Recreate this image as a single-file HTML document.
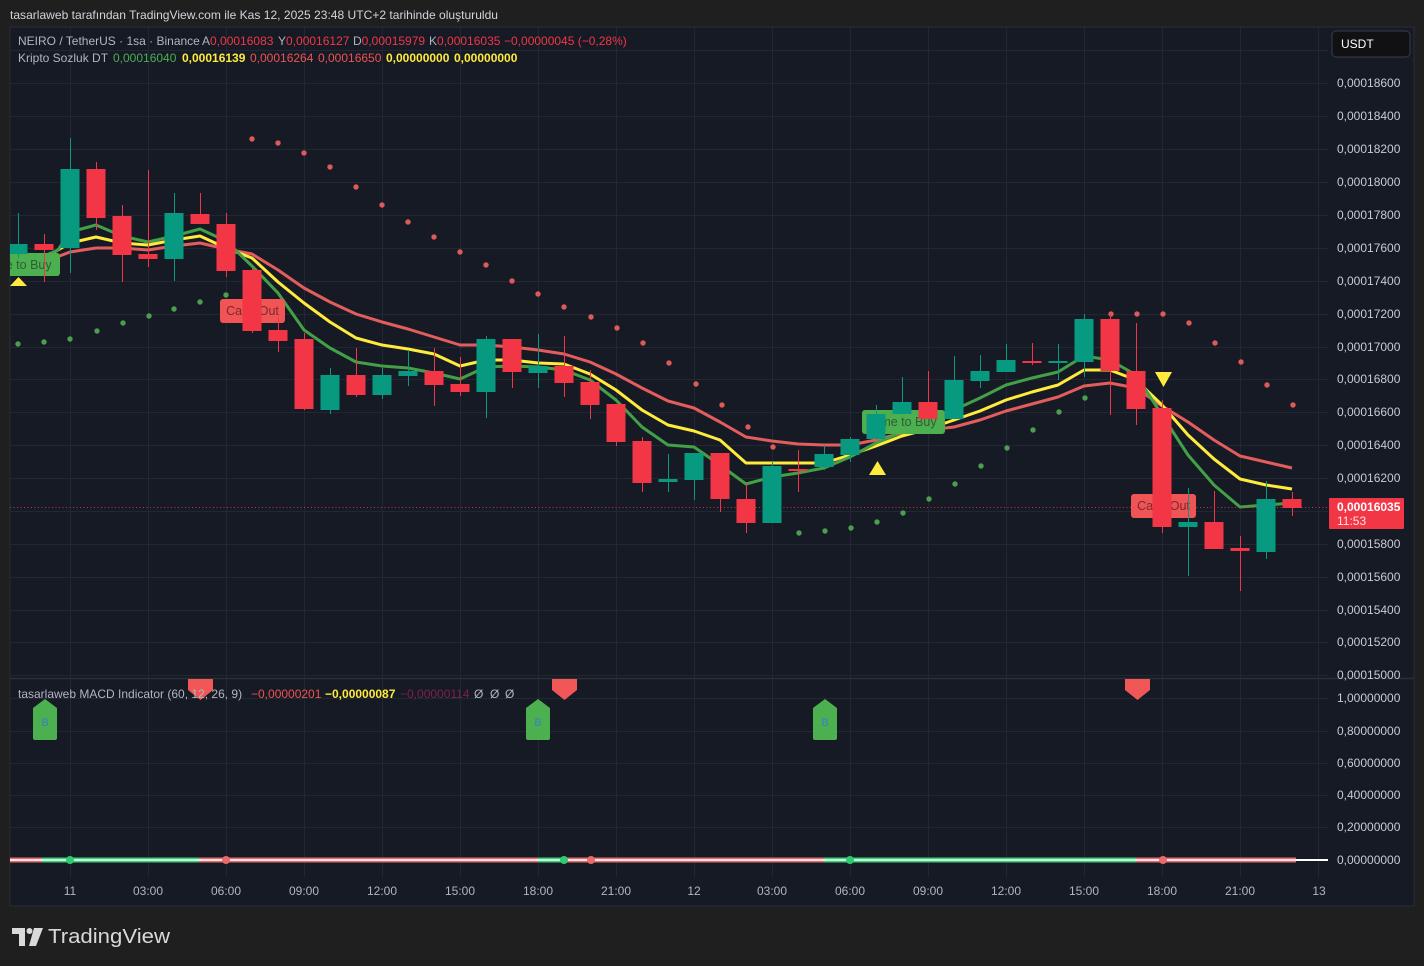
<!DOCTYPE html>
<html><head><meta charset="utf-8"><style>
html,body{margin:0;padding:0;background:#1f1f1f;}
svg{display:block;}
text{font-family:"Liberation Sans",Arial,sans-serif;}
</style></head><body>
<svg width="1424" height="966" viewBox="0 0 1424 966" xmlns="http://www.w3.org/2000/svg">
<defs>
<clipPath id="cm"><rect x="10" y="27" width="1318" height="651"/></clipPath>
<clipPath id="cd"><rect x="10" y="679" width="1318" height="196"/></clipPath>
</defs>
<rect width="1424" height="966" fill="#1f1f1f"/>
<text x="10" y="19" font-size="12" fill="#d1d4dc" textLength="488" lengthAdjust="spacingAndGlyphs">tasarlaweb tarafından TradingView.com ile Kas 12, 2025 23:48 UTC+2 tarihinde oluşturuldu</text>
<rect x="10" y="27" width="1404" height="879" fill="#161a25" stroke="#2a2e39" stroke-width="1"/>
<!-- grid -->
<g stroke="#232733" stroke-width="1">
<line x1="10" y1="50.5" x2="1328" y2="50.5"/><line x1="10" y1="83.5" x2="1328" y2="83.5"/><line x1="10" y1="116.5" x2="1328" y2="116.5"/><line x1="10" y1="149.5" x2="1328" y2="149.5"/><line x1="10" y1="182.5" x2="1328" y2="182.5"/><line x1="10" y1="215.5" x2="1328" y2="215.5"/><line x1="10" y1="248.5" x2="1328" y2="248.5"/><line x1="10" y1="281.5" x2="1328" y2="281.5"/><line x1="10" y1="314.5" x2="1328" y2="314.5"/><line x1="10" y1="347.5" x2="1328" y2="347.5"/><line x1="10" y1="379.5" x2="1328" y2="379.5"/><line x1="10" y1="412.5" x2="1328" y2="412.5"/><line x1="10" y1="445.5" x2="1328" y2="445.5"/><line x1="10" y1="478.5" x2="1328" y2="478.5"/><line x1="10" y1="511.5" x2="1328" y2="511.5"/><line x1="10" y1="544.5" x2="1328" y2="544.5"/><line x1="10" y1="577.5" x2="1328" y2="577.5"/><line x1="10" y1="610.5" x2="1328" y2="610.5"/><line x1="10" y1="642.5" x2="1328" y2="642.5"/><line x1="10" y1="675.5" x2="1328" y2="675.5"/>
<line x1="10" y1="698.5" x2="1328" y2="698.5"/><line x1="10" y1="731.5" x2="1328" y2="731.5"/><line x1="10" y1="763.5" x2="1328" y2="763.5"/><line x1="10" y1="795.5" x2="1328" y2="795.5"/><line x1="10" y1="827.5" x2="1328" y2="827.5"/>
<line x1="70.5" y1="27" x2="70.5" y2="877"/><line x1="148.5" y1="27" x2="148.5" y2="877"/><line x1="226.5" y1="27" x2="226.5" y2="877"/><line x1="304.5" y1="27" x2="304.5" y2="877"/><line x1="382.5" y1="27" x2="382.5" y2="877"/><line x1="460.5" y1="27" x2="460.5" y2="877"/><line x1="538.5" y1="27" x2="538.5" y2="877"/><line x1="616.5" y1="27" x2="616.5" y2="877"/><line x1="694.5" y1="27" x2="694.5" y2="877"/><line x1="772.5" y1="27" x2="772.5" y2="877"/><line x1="850.5" y1="27" x2="850.5" y2="877"/><line x1="928.5" y1="27" x2="928.5" y2="877"/><line x1="1006.5" y1="27" x2="1006.5" y2="877"/><line x1="1084.5" y1="27" x2="1084.5" y2="877"/><line x1="1162.5" y1="27" x2="1162.5" y2="877"/><line x1="1240.5" y1="27" x2="1240.5" y2="877"/><line x1="1318.5" y1="27" x2="1318.5" y2="877"/>
</g>
<line x1="10" y1="678.5" x2="1414" y2="678.5" stroke="#2a2e39" stroke-width="1.5"/>

<g clip-path="url(#cm)">
<!-- MAs -->
<polyline fill="none" stroke="#e35d5d" stroke-width="3" stroke-linejoin="round" points="10,270 18,268 44,262 70,252 96,248 122,248 148,250 174,246 200,243 226,249 252,254 278,270 304,288 330,302 356,314 382,322 408,329 434,337 460,345 486,345 512,347 538,350 564,354 590,362 616,374 642,388 668,401 694,408 720,422 746,437 772,441 798,444 824,445 850,445 876,440 902,433 928,430 954,427 980,420 1006,411 1032,404 1058,397 1084,386 1110,383 1136,388 1162,406 1188,422 1214,440 1240,456 1266,462 1292,468"/>
<polyline fill="none" stroke="#ffeb3b" stroke-width="3" stroke-linejoin="round" points="10,267 18,265 44,258 70,243 96,237 122,243 148,245 174,240 200,236 226,248 252,258 278,282 304,303 330,322 356,338 382,345 408,349 434,354 460,366 486,360 512,360 538,363 564,364 590,374 616,390 642,410 668,425 694,431 720,440 746,463 772,463 798,463 824,463 850,455 876,446 902,436 928,429 954,420 980,411 1006,400 1032,392 1058,385 1084,370 1110,370 1136,380 1162,405 1188,435 1214,459 1240,479 1266,485 1292,489"/>
<polyline fill="none" stroke="#43a047" stroke-width="3" stroke-linejoin="round" points="10,264 18,262 44,256 58,250 70,232 96,225 122,236 148,242 174,236 200,229 226,241 252,266 278,293 304,330 330,348 356,362 382,366 408,368 434,373 460,379 486,367 512,366 538,367 564,370 590,380 616,400 642,427 668,445 694,447 720,465 746,484 772,477 798,473 824,468 850,457 876,443 902,432 928,420 954,410 980,398 1006,385 1032,378 1058,372 1084,356 1110,360 1136,375 1162,415 1188,455 1214,485 1240,507 1266,505 1292,503"/>
<!-- SAR -->
<g fill="#4c9e4f">
<circle cx="18" cy="344" r="2.7"/><circle cx="44" cy="342" r="2.7"/><circle cx="70" cy="339" r="2.7"/><circle cx="97" cy="331" r="2.7"/><circle cx="123" cy="323" r="2.7"/><circle cx="149" cy="316" r="2.7"/><circle cx="174" cy="309" r="2.7"/><circle cx="200" cy="302" r="2.7"/><circle cx="226" cy="295" r="2.7"/>
<circle cx="799" cy="533" r="2.7"/><circle cx="825" cy="531" r="2.7"/><circle cx="851" cy="528" r="2.7"/><circle cx="877" cy="522" r="2.7"/><circle cx="903" cy="513" r="2.7"/><circle cx="929" cy="499" r="2.7"/><circle cx="955" cy="484" r="2.7"/><circle cx="981" cy="466" r="2.7"/><circle cx="1007" cy="448" r="2.7"/><circle cx="1033" cy="430" r="2.7"/><circle cx="1059" cy="412" r="2.7"/><circle cx="1085" cy="398" r="2.7"/>
</g>
<g fill="#dc5a5a">
<circle cx="252" cy="139" r="2.7"/><circle cx="278" cy="143" r="2.7"/><circle cx="304" cy="153" r="2.7"/><circle cx="330" cy="167" r="2.7"/><circle cx="356" cy="187" r="2.7"/><circle cx="382" cy="205" r="2.7"/><circle cx="408" cy="222" r="2.7"/><circle cx="434" cy="237" r="2.7"/><circle cx="460" cy="252" r="2.7"/><circle cx="486" cy="265" r="2.7"/><circle cx="512" cy="281" r="2.7"/><circle cx="538" cy="294" r="2.7"/><circle cx="564" cy="307" r="2.7"/><circle cx="591" cy="317" r="2.7"/><circle cx="617" cy="328" r="2.7"/><circle cx="643" cy="343" r="2.7"/><circle cx="669" cy="363" r="2.7"/><circle cx="696" cy="384" r="2.7"/><circle cx="722" cy="405" r="2.7"/><circle cx="748" cy="427" r="2.7"/><circle cx="773" cy="447" r="2.7"/>
<circle cx="1111" cy="314" r="2.7"/><circle cx="1137" cy="314" r="2.7"/><circle cx="1163" cy="314" r="2.7"/><circle cx="1189" cy="323" r="2.7"/><circle cx="1215" cy="343" r="2.7"/><circle cx="1241" cy="362" r="2.7"/><circle cx="1267" cy="385" r="2.7"/><circle cx="1293" cy="405" r="2.7"/>
</g>
<!-- labels -->
<rect x="-23" y="253" width="83" height="23" rx="3" fill="#4caf50"/>
<text x="18.5" y="269" font-size="12.5" fill="#2f5d33" text-anchor="middle">Time to Buy</text>
<rect x="862" y="410" width="83" height="24" rx="3" fill="#4caf50"/>
<text x="903.5" y="426" font-size="12.5" fill="#2f5d33" text-anchor="middle">Time to Buy</text>
<rect x="220" y="299" width="65" height="24" rx="3" fill="#f05454"/>
<text x="252.5" y="315" font-size="12.5" fill="#7a2a2e" text-anchor="middle">Cash Out</text>
<rect x="1131" y="494" width="65" height="24" rx="3" fill="#f05454"/>
<text x="1163.5" y="510" font-size="12.5" fill="#7a2a2e" text-anchor="middle">Cash Out</text>
<polygon points="10,286 27,286 18.5,277" fill="#ffeb3b"/>
<polygon points="869,475 886,475 877.5,461" fill="#ffeb3b"/>
<polygon points="1155,372 1172,372 1163.5,387" fill="#ffeb3b"/>
<!-- price line -->
<line x1="10" y1="507.5" x2="1328" y2="507.5" stroke="#f23645" stroke-width="1" stroke-dasharray="1 2.5" opacity="0.85"/>
<!-- candles -->
<g stroke-width="1">
<g stroke="#089981" fill="#089981">
<line x1="18.5" y1="213" x2="18.5" y2="258"/><rect x="8.5" y="244" width="19" height="10" stroke="none"/>
<line x1="70.5" y1="138" x2="70.5" y2="273"/><rect x="60.5" y="169" width="19" height="79" stroke="none"/>
<line x1="174.5" y1="193" x2="174.5" y2="281"/><rect x="164.5" y="213" width="19" height="46" stroke="none"/>
<line x1="330.5" y1="368" x2="330.5" y2="414"/><rect x="320.5" y="375" width="19" height="35" stroke="none"/>
<line x1="382.5" y1="368" x2="382.5" y2="399"/><rect x="372.5" y="375" width="19" height="20" stroke="none"/>
<line x1="408.5" y1="350" x2="408.5" y2="386"/><rect x="398.5" y="371" width="19" height="5" stroke="none"/>
<line x1="486.5" y1="336" x2="486.5" y2="418"/><rect x="476.5" y="339" width="19" height="53" stroke="none"/>
<line x1="538.5" y1="334" x2="538.5" y2="388"/><rect x="528.5" y="366" width="19" height="7" stroke="none"/>
<line x1="668.5" y1="454" x2="668.5" y2="492"/><rect x="658.5" y="479" width="19" height="3" stroke="none"/>
<line x1="694.5" y1="453" x2="694.5" y2="500"/><rect x="684.5" y="453" width="19" height="27" stroke="none"/>
<line x1="772.5" y1="462" x2="772.5" y2="523"/><rect x="762.5" y="466" width="19" height="57" stroke="none"/>
<line x1="824.5" y1="445" x2="824.5" y2="470"/><rect x="814.5" y="454" width="19" height="13" stroke="none"/>
<line x1="850.5" y1="437" x2="850.5" y2="462"/><rect x="840.5" y="439" width="19" height="16" stroke="none"/>
<line x1="876.5" y1="405" x2="876.5" y2="440"/><rect x="866.5" y="414" width="19" height="25" stroke="none"/>
<line x1="902.5" y1="377" x2="902.5" y2="414"/><rect x="892.5" y="402" width="19" height="12" stroke="none"/>
<line x1="954.5" y1="356" x2="954.5" y2="419"/><rect x="944.5" y="380" width="19" height="39" stroke="none"/>
<line x1="980.5" y1="355" x2="980.5" y2="388"/><rect x="970.5" y="371" width="19" height="10" stroke="none"/>
<line x1="1006.5" y1="344" x2="1006.5" y2="372"/><rect x="996.5" y="360" width="19" height="12" stroke="none"/>
<line x1="1058.5" y1="344" x2="1058.5" y2="380"/><rect x="1048.5" y="361" width="19" height="2" stroke="none"/>
<line x1="1084.5" y1="314" x2="1084.5" y2="377"/><rect x="1074.5" y="319" width="19" height="43" stroke="none"/>
<line x1="1188.5" y1="488" x2="1188.5" y2="576"/><rect x="1178.5" y="522" width="19" height="5" stroke="none"/>
<line x1="1266.5" y1="481" x2="1266.5" y2="559"/><rect x="1256.5" y="499" width="19" height="53" stroke="none"/>
</g>
<g stroke="#f23645" fill="#f23645">
<line x1="44.5" y1="234" x2="44.5" y2="282"/><rect x="34.5" y="244" width="19" height="6" stroke="none"/>
<line x1="96.5" y1="162" x2="96.5" y2="230"/><rect x="86.5" y="169" width="19" height="49" stroke="none"/>
<line x1="122.5" y1="205" x2="122.5" y2="282"/><rect x="112.5" y="216" width="19" height="39" stroke="none"/>
<line x1="148.5" y1="170" x2="148.5" y2="267"/><rect x="138.5" y="254" width="19" height="5" stroke="none"/>
<line x1="200.5" y1="193" x2="200.5" y2="224"/><rect x="190.5" y="214" width="19" height="10" stroke="none"/>
<line x1="226.5" y1="213" x2="226.5" y2="277"/><rect x="216.5" y="224" width="19" height="47" stroke="none"/>
<line x1="252.5" y1="268" x2="252.5" y2="333"/><rect x="242.5" y="270" width="19" height="61" stroke="none"/>
<line x1="278.5" y1="317" x2="278.5" y2="352"/><rect x="268.5" y="330" width="19" height="11" stroke="none"/>
<line x1="304.5" y1="333" x2="304.5" y2="410"/><rect x="294.5" y="339" width="19" height="70" stroke="none"/>
<line x1="356.5" y1="348" x2="356.5" y2="397"/><rect x="346.5" y="375" width="19" height="20" stroke="none"/>
<line x1="434.5" y1="348" x2="434.5" y2="406"/><rect x="424.5" y="371" width="19" height="14" stroke="none"/>
<line x1="460.5" y1="357" x2="460.5" y2="396"/><rect x="450.5" y="384" width="19" height="8" stroke="none"/>
<line x1="512.5" y1="339" x2="512.5" y2="388"/><rect x="502.5" y="339" width="19" height="33" stroke="none"/>
<line x1="564.5" y1="336" x2="564.5" y2="397"/><rect x="554.5" y="366" width="19" height="17" stroke="none"/>
<line x1="590.5" y1="370" x2="590.5" y2="419"/><rect x="580.5" y="382" width="19" height="23" stroke="none"/>
<line x1="616.5" y1="404" x2="616.5" y2="446"/><rect x="606.5" y="404" width="19" height="38" stroke="none"/>
<line x1="642.5" y1="437" x2="642.5" y2="492"/><rect x="632.5" y="441" width="19" height="42" stroke="none"/>
<line x1="720.5" y1="453" x2="720.5" y2="512"/><rect x="710.5" y="453" width="19" height="46" stroke="none"/>
<line x1="746.5" y1="484" x2="746.5" y2="533"/><rect x="736.5" y="499" width="19" height="24" stroke="none"/>
<line x1="798.5" y1="450" x2="798.5" y2="492"/><rect x="788.5" y="469" width="19" height="2" stroke="none"/>
<line x1="928.5" y1="371" x2="928.5" y2="419"/><rect x="918.5" y="402" width="19" height="17" stroke="none"/>
<line x1="1032.5" y1="343" x2="1032.5" y2="365"/><rect x="1022.5" y="361" width="19" height="2" stroke="none"/>
<line x1="1110.5" y1="314" x2="1110.5" y2="415"/><rect x="1100.5" y="319" width="19" height="52" stroke="none"/>
<line x1="1136.5" y1="323" x2="1136.5" y2="425"/><rect x="1126.5" y="371" width="19" height="38" stroke="none"/>
<line x1="1162.5" y1="400" x2="1162.5" y2="533"/><rect x="1152.5" y="408" width="19" height="119" stroke="none"/>
<line x1="1214.5" y1="491" x2="1214.5" y2="549"/><rect x="1204.5" y="522" width="19" height="27" stroke="none"/>
<line x1="1240.5" y1="536" x2="1240.5" y2="591"/><rect x="1230.5" y="548" width="19" height="3" stroke="none"/>
<line x1="1292.5" y1="492" x2="1292.5" y2="516"/><rect x="1282.5" y="499" width="19" height="9" stroke="none"/>
</g>
</g>
</g>

<!-- legend main -->
<g font-size="12">
<text x="18" y="45" fill="#b2b5be">NEIRO / TetherUS · 1sa · Binance</text>
<text x="202" y="45" fill="#b2b5be">A<tspan fill="#f23645">0,00016083</tspan></text>
<text x="278" y="45" fill="#b2b5be">Y<tspan fill="#f23645">0,00016127</tspan></text>
<text x="353" y="45" fill="#b2b5be">D<tspan fill="#f23645">0,00015979</tspan></text>
<text x="429" y="45" fill="#b2b5be">K<tspan fill="#f23645">0,00016035</tspan></text>
<text x="504" y="45" fill="#f23645">−0,00000045 (−0,28%)</text>
<text x="18" y="62" fill="#b2b5be">Kripto Sozluk DT</text>
<text x="113" y="62" fill="#4caf50">0,00016040</text>
<text x="182" y="62" fill="#ffeb3b" font-weight="bold">0,00016139</text>
<text x="250" y="62" fill="#ef5350">0,00016264</text>
<text x="318" y="62" fill="#ef5350">0,00016650</text>
<text x="386" y="62" fill="#ffeb3b" font-weight="bold">0,00000000</text>
<text x="454" y="62" fill="#ffeb3b" font-weight="bold">0,00000000</text>
</g>

<!-- MACD pane -->
<g clip-path="url(#cd)">
<g stroke-width="5" stroke-linecap="butt">
<line x1="10" y1="860" x2="42" y2="860" stroke="#e66a6a"/>
<line x1="42" y1="860" x2="199" y2="860" stroke="#3ccf7a"/>
<line x1="199" y1="860" x2="538" y2="860" stroke="#e66a6a"/>
<line x1="538" y1="860" x2="562" y2="860" stroke="#3ccf7a"/>
<line x1="562" y1="860" x2="824" y2="860" stroke="#e66a6a"/>
<line x1="824" y1="860" x2="1136" y2="860" stroke="#3ccf7a"/>
<line x1="1136" y1="860" x2="1296" y2="860" stroke="#e66a6a"/>
</g>
<g stroke-width="2">
<line x1="10" y1="860" x2="42" y2="860" stroke="#fde4e4"/>
<line x1="42" y1="860" x2="199" y2="860" stroke="#c9f9da"/>
<line x1="199" y1="860" x2="538" y2="860" stroke="#fde4e4"/>
<line x1="538" y1="860" x2="562" y2="860" stroke="#c9f9da"/>
<line x1="562" y1="860" x2="824" y2="860" stroke="#fde4e4"/>
<line x1="824" y1="860" x2="1136" y2="860" stroke="#c9f9da"/>
<line x1="1136" y1="860" x2="1296" y2="860" stroke="#fde4e4"/>
<line x1="1296" y1="860" x2="1328" y2="860" stroke="#ffffff"/>
</g>
<g fill="#2ecc71"><circle cx="70" cy="860" r="4"/><circle cx="564" cy="860" r="4"/><circle cx="850" cy="860" r="4"/></g>
<g fill="#e76b6b"><circle cx="226" cy="860" r="4"/><circle cx="591" cy="860" r="4"/><circle cx="1163" cy="860" r="4"/></g>
<!-- markers -->
<g fill="#4caf50">
<path d="M33,740 L33,708 L45,699 L57,708 L57,738 Q57,740 55,740 L35,740 Q33,740 33,738 Z"/>
<path d="M526,740 L526,708 L538,699 L550,708 L550,738 Q550,740 548,740 L528,740 Q526,740 526,738 Z"/>
<path d="M813,740 L813,708 L825,699 L837,708 L837,738 Q837,740 835,740 L815,740 Q813,740 813,738 Z"/>
</g>
<g font-size="11" fill="#3b7fc4" text-anchor="middle">
<text x="45" y="726">B</text><text x="538" y="726">B</text><text x="825" y="726">B</text>
</g>
<g fill="#f25757">
<path d="M188,679 L213,679 L213,690 L200.5,700 L188,690 Z"/>
<path d="M552,679 L577,679 L577,690 L564.5,700 L552,690 Z"/>
<path d="M1125,679 L1150,679 L1150,690 L1137.5,700 L1125,690 Z"/>
</g>
</g>
<g font-size="12">
<text x="18" y="698" fill="#b2b5be">tasarlaweb MACD Indicator (60, 12, 26, 9)</text>
<text x="251" y="698" fill="#ef5350">−0,00000201</text>
<text x="325" y="698" fill="#ffeb3b" font-weight="bold">−0,00000087</text>
<text x="400" y="698" fill="#7b2342">−0,00000114</text>
<text x="474" y="698" fill="#b2b5be">Ø</text><text x="490" y="698" fill="#b2b5be">Ø</text><text x="505" y="698" fill="#b2b5be">Ø</text>
</g>

<!-- price axis -->
<g font-size="12" fill="#c8cbd3">
<text x="1337" y="87">0,00018600</text><text x="1337" y="120">0,00018400</text><text x="1337" y="153">0,00018200</text><text x="1337" y="186">0,00018000</text><text x="1337" y="219">0,00017800</text><text x="1337" y="252">0,00017600</text><text x="1337" y="285">0,00017400</text><text x="1337" y="318">0,00017200</text><text x="1337" y="351">0,00017000</text><text x="1337" y="383">0,00016800</text><text x="1337" y="416">0,00016600</text><text x="1337" y="449">0,00016400</text><text x="1337" y="482">0,00016200</text><text x="1337" y="548">0,00015800</text><text x="1337" y="581">0,00015600</text><text x="1337" y="614">0,00015400</text><text x="1337" y="646">0,00015200</text><text x="1337" y="679">0,00015000</text>
<text x="1337" y="702">1,00000000</text><text x="1337" y="735">0,80000000</text><text x="1337" y="767">0,60000000</text><text x="1337" y="799">0,40000000</text><text x="1337" y="831">0,20000000</text><text x="1337" y="864">0,00000000</text>
</g>
<rect x="1332" y="31" width="78" height="26" rx="4" fill="#111114" stroke="#3a3d46" stroke-width="1"/>
<text x="1341" y="48" font-size="12" fill="#ffffff">USDT</text>
<rect x="1329" y="498" width="75" height="31" rx="1" fill="#f23645"/>
<text x="1337" y="511" font-size="12" font-weight="bold" fill="#ffffff">0,00016035</text>
<text x="1337" y="525" font-size="12" fill="#ffe3e6">11:53</text>

<!-- time axis -->
<g font-size="12" fill="#b2b5be" text-anchor="middle">
<text x="70" y="895">11</text><text x="148" y="895">03:00</text><text x="226" y="895">06:00</text><text x="304" y="895">09:00</text><text x="382" y="895">12:00</text><text x="460" y="895">15:00</text><text x="538" y="895">18:00</text><text x="616" y="895">21:00</text><text x="694" y="895">12</text><text x="772" y="895">03:00</text><text x="850" y="895">06:00</text><text x="928" y="895">09:00</text><text x="1006" y="895">12:00</text><text x="1084" y="895">15:00</text><text x="1162" y="895">18:00</text><text x="1240" y="895">21:00</text><text x="1319" y="895">13</text>
</g>

<!-- logo -->
<g fill="#d9d9d9">
<path d="M12,928 H25 V946 H19 V934 H12 Z"/>
<circle cx="29.5" cy="931" r="3"/>
<path d="M34,928 H43 L36,946 H29 Z"/>
</g>
<text x="48" y="943" font-size="20" fill="#d9d9d9" textLength="122" lengthAdjust="spacingAndGlyphs">TradingView</text>
</svg>
</body></html>
